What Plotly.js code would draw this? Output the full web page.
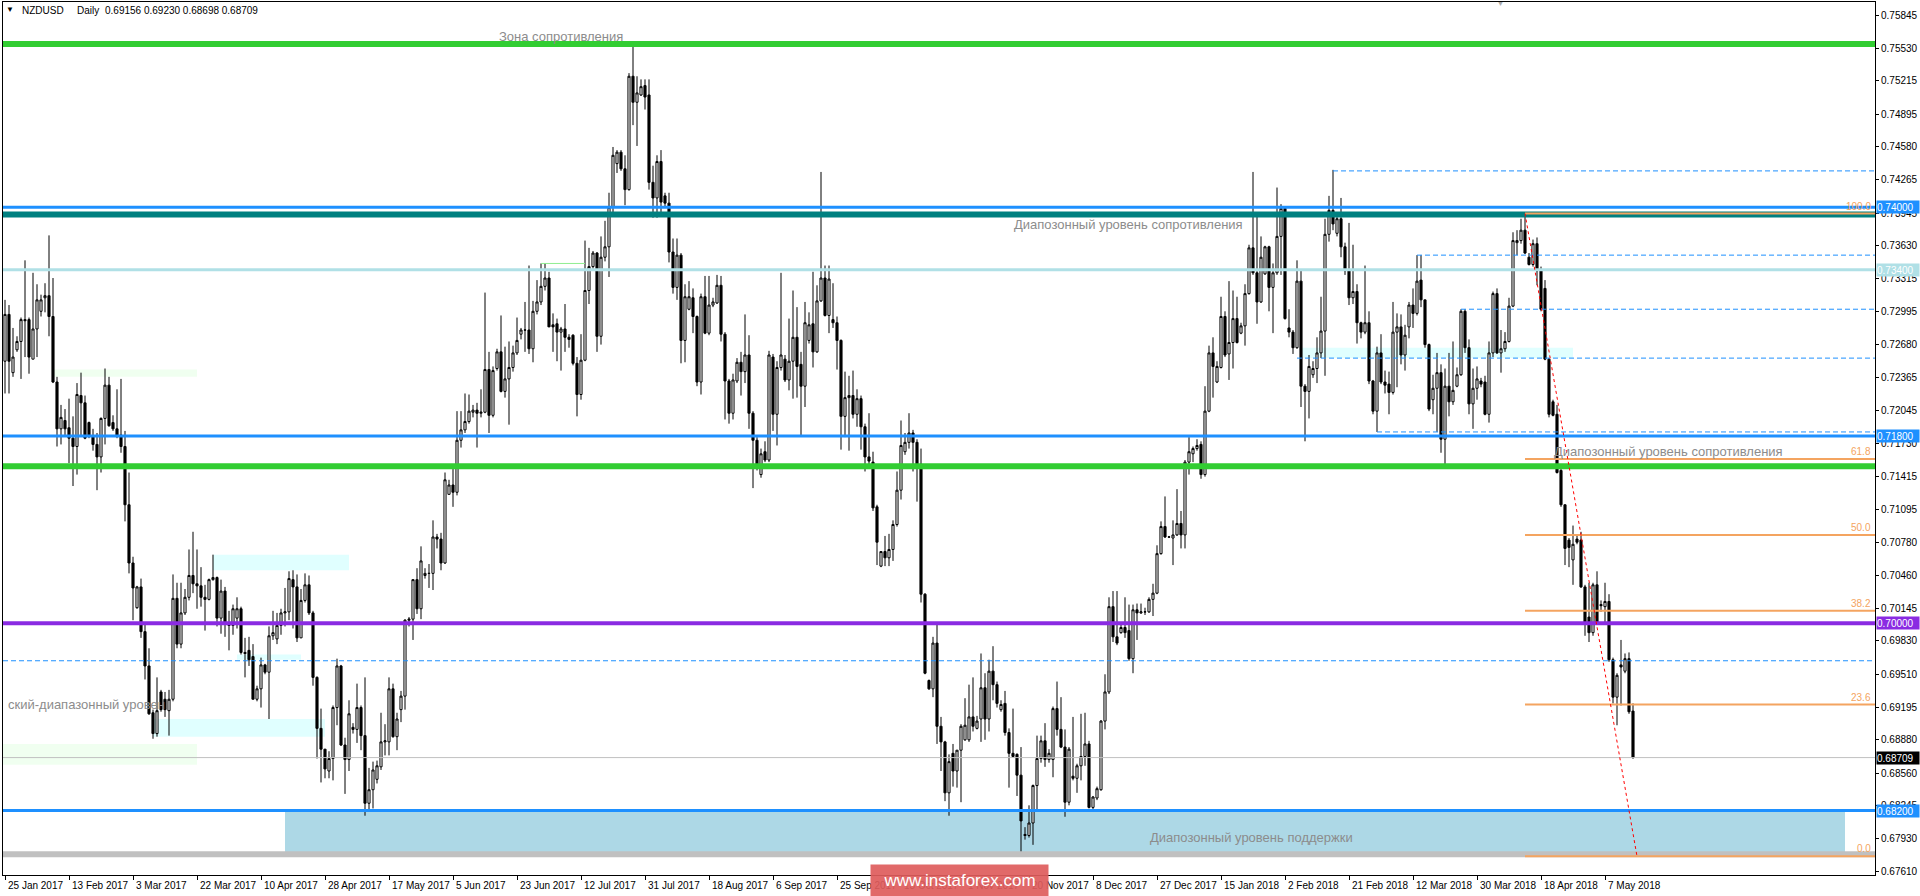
<!DOCTYPE html>
<html><head><meta charset="utf-8">
<script src="https://cdn.plot.ly/plotly-3.0.1.min.js"></script>
<style>html,body{margin:0;padding:0;background:#fff;}#chart{width:1920px;height:896px;}</style>
</head><body><div id="chart"></div>
<script>
// ---------- data ----------
const symbol = 'NZDUSD';
const timeframe = 'Daily';
const firstDay = '2017-01-25';

const open = [
0.7252,0.7297,0.7241,0.7263,0.7271,0.7292,0.7292,0.7254,0.7283,0.7300,
0.7313,0.7315,0.7295,0.7232,0.7187,0.7195,0.7188,0.7178,0.7170,0.7219,
0.7212,0.7193,0.7180,0.7172,0.7160,0.7197,0.7229,0.7193,0.7187,0.7181,
0.7170,0.7114,0.7058,0.7015,0.7035,0.6992,0.6959,0.6914,0.6894,0.6934,
0.6927,0.6916,0.6927,0.7024,0.6980,0.7010,0.7025,0.7046,0.7038,0.7036,
0.7025,0.7023,0.7042,0.7044,0.7005,0.7031,0.6999,0.6998,0.7005,0.7014,
0.6972,0.6974,0.6968,0.6927,0.6937,0.6960,0.6953,0.6988,0.6985,0.6998,
0.7010,0.7011,0.7042,0.7035,0.6986,0.7022,0.7037,0.7010,0.6948,0.6899,
0.6879,0.6858,0.6870,0.6919,0.6959,0.6883,0.6869,0.6900,0.6898,0.6919,
0.6892,0.6827,0.6840,0.6850,0.6862,0.6886,0.6886,0.6937,0.6891,0.6917,
0.6930,0.7003,0.7004,0.7042,0.7014,0.7046,0.7048,0.7048,0.7083,0.7081,
0.7058,0.7124,0.7133,0.7126,0.7176,0.7186,0.7194,0.7203,0.7205,0.7202,
0.7203,0.7244,0.7200,0.7245,0.7261,0.7223,0.7235,0.7246,0.7260,0.7278,
0.7282,0.7282,0.7264,0.7300,0.7309,0.7324,0.7332,0.7287,0.7288,0.7280,
0.7283,0.7275,0.7277,0.7250,0.7220,0.7253,0.7320,0.7343,0.7356,0.7276,
0.7352,0.7362,0.7400,0.7442,0.7453,0.7437,0.7417,0.7526,0.7501,0.7508,
0.7517,0.7508,0.7424,0.7409,0.7444,0.7411,0.7404,0.7357,0.7323,0.7354,
0.7272,0.7302,0.7313,0.7295,0.7232,0.7314,0.7279,0.7306,0.7308,0.7325,
0.7278,0.7233,0.7202,0.7233,0.7251,0.7242,0.7258,0.7202,0.7176,0.7143,
0.7165,0.7157,0.7256,0.7201,0.7246,0.7254,0.7234,0.7252,0.7275,0.7249,
0.7228,0.7272,0.7288,0.7261,0.7310,0.7332,0.7296,0.7292,0.7289,0.7272,
0.7199,0.7217,0.7219,0.7201,0.7216,0.7189,0.7160,0.7155,0.7112,0.7055,
0.7069,0.7063,0.7071,0.7095,0.7128,0.7165,0.7174,0.7183,0.7174,0.7153,
0.7028,0.6945,0.6937,0.6981,0.6901,0.6886,0.6837,0.6875,0.6858,0.6878,
0.6888,0.6888,0.6910,0.6899,0.6908,0.6938,0.6908,0.6954,0.6941,0.6917,
0.6923,0.6895,0.6875,0.6874,0.6854,0.6797,0.6796,0.6808,0.6844,0.6870,
0.6887,0.6869,0.6869,0.6918,0.6898,0.6881,0.6828,0.6853,0.6851,0.6863,
0.6872,0.6884,0.6823,0.6832,0.6840,0.6906,0.6934,0.7016,0.6987,0.6991,
0.6996,0.6993,0.6966,0.7013,0.7010,0.7011,0.7011,0.7023,0.7029,0.7067,
0.7093,0.7083,0.7082,0.7085,0.7096,0.7085,0.7155,0.7163,0.7168,0.7172,
0.7143,0.7204,0.7260,0.7232,0.7246,0.7295,0.7259,0.7270,0.7293,0.7279,
0.7286,0.7317,0.7361,0.7337,0.7309,0.7336,0.7362,0.7323,0.7337,0.7372,
0.7399,0.7284,0.7280,0.7265,0.7329,0.7228,0.7223,0.7239,0.7245,0.7260,
0.7281,0.7374,0.7397,0.7375,0.7389,0.7362,0.7339,0.7313,0.7319,0.7289,
0.7280,0.7289,0.7233,0.7204,0.7260,0.7232,0.7230,0.7222,0.7280,0.7285,
0.7258,0.7285,0.7306,0.7298,0.7330,0.7311,0.7268,0.7215,0.7226,0.7241,
0.7177,0.7228,0.7213,0.7228,0.7239,0.7300,0.7265,0.7211,0.7226,0.7233,
0.7232,0.7201,0.7260,0.7317,0.7260,0.7264,0.7271,0.7305,0.7366,0.7368,
0.7378,0.7352,0.7345,0.7365,0.7339,0.7322,0.7254,0.7213,0.7201,0.7147,
0.7114,0.7080,0.7061,0.7081,0.7080,0.7035,0.7006,0.6991,0.7037,0.7018,
0.7016,0.7021,0.6965,0.6929,0.6960,0.6954,0.6966,0.69156];

const high = [
0.7311,0.7306,0.7284,0.7276,0.7294,0.7349,0.7294,0.7337,0.7326,0.7316,
0.7327,0.7373,0.7332,0.7237,0.7210,0.7206,0.7216,0.7199,0.7231,0.7241,
0.7219,0.7194,0.7187,0.7183,0.7198,0.7245,0.7237,0.7200,0.7225,0.7235,
0.7185,0.7145,0.7064,0.7036,0.7043,0.7001,0.6976,0.6917,0.6948,0.6936,
0.6934,0.6936,0.7047,0.7039,0.7039,0.7033,0.7071,0.7088,0.7071,0.7054,
0.7037,0.7043,0.7066,0.7045,0.7042,0.7035,0.7012,0.7018,0.7025,0.7016,
0.6986,0.6987,0.6980,0.6940,0.6967,0.6961,0.6997,0.7012,0.7010,0.7014,
0.7034,0.7050,0.7051,0.7047,0.7033,0.7048,0.7046,0.7012,0.6949,0.6918,
0.6879,0.6877,0.6921,0.6966,0.6960,0.6890,0.6926,0.6904,0.6942,0.6921,
0.6948,0.6861,0.6867,0.6868,0.6914,0.6903,0.6948,0.6942,0.6914,0.6935,
0.7004,0.7006,0.7042,0.7053,0.7074,0.7053,0.7057,0.7099,0.7086,0.7087,
0.7145,0.7138,0.7149,0.7204,0.7204,0.7221,0.7220,0.7210,0.7212,0.7225,
0.7318,0.7261,0.7247,0.7264,0.7296,0.7266,0.7271,0.7267,0.7294,0.7284,
0.7309,0.7344,0.7310,0.7330,0.7346,0.7346,0.7338,0.7298,0.7293,0.7285,
0.7307,0.7278,0.7278,0.7256,0.7278,0.7368,0.7361,0.7358,0.7357,0.7372,
0.7387,0.7414,0.7458,0.7455,0.7455,0.7450,0.7529,0.7558,0.7526,0.7523,
0.7523,0.7523,0.7440,0.7450,0.7455,0.7414,0.7414,0.7370,0.7370,0.7356,
0.7326,0.7329,0.7322,0.7296,0.7317,0.7334,0.7334,0.7313,0.7335,0.7334,
0.7280,0.7235,0.7240,0.7255,0.7261,0.7297,0.7277,0.7204,0.7179,0.7168,
0.7175,0.7262,0.7259,0.7252,0.7337,0.7258,0.7293,0.7320,0.7304,0.7261,
0.7309,0.7299,0.7338,0.7325,0.7434,0.7344,0.7344,0.7327,0.7295,0.7273,
0.7242,0.7238,0.7243,0.7225,0.7219,0.7192,0.7202,0.7165,0.7114,0.7069,
0.7084,0.7086,0.7099,0.7146,0.7195,0.7183,0.7202,0.7186,0.7177,0.7168,
0.7029,0.6946,0.6987,0.6999,0.6910,0.6887,0.6874,0.6884,0.6878,0.6903,
0.6928,0.6941,0.6948,0.6911,0.6971,0.6952,0.6965,0.6978,0.6944,0.6926,
0.6935,0.6899,0.6918,0.6875,0.6881,0.6804,0.6825,0.6845,0.6892,0.6892,
0.6904,0.6879,0.6920,0.6944,0.6929,0.6898,0.6881,0.6910,0.6865,0.6913,
0.6914,0.6887,0.6834,0.6843,0.6907,0.6951,0.7025,0.7031,0.7031,0.7000,
0.7025,0.7018,0.7018,0.7019,0.7019,0.7015,0.7025,0.7038,0.7075,0.7098,
0.7122,0.7084,0.7099,0.7129,0.7108,0.7157,0.7179,0.7170,0.7177,0.7175,
0.7228,0.7267,0.7275,0.7252,0.7314,0.7300,0.7329,0.7320,0.7314,0.7289,
0.7326,0.7364,0.7434,0.7392,0.7372,0.7363,0.7363,0.7346,0.7419,0.7403,
0.7400,0.7302,0.7282,0.7349,0.7340,0.7230,0.7258,0.7252,0.7275,0.7314,
0.7389,0.7411,0.7436,0.7393,0.7409,0.7366,0.7385,0.7364,0.7326,0.7290,
0.7344,0.7300,0.7234,0.7266,0.7278,0.7243,0.7242,0.7309,0.7298,0.7297,
0.7287,0.7309,0.7322,0.7354,0.7354,0.7311,0.7269,0.7239,0.7260,0.7249,
0.7245,0.7260,0.7271,0.7246,0.7302,0.7302,0.7273,0.7245,0.7247,0.7236,
0.7238,0.7271,0.7319,0.7322,0.7282,0.7280,0.7313,0.7376,0.7378,0.7389,
0.7394,0.7356,0.7369,0.7371,0.7343,0.7330,0.7255,0.7215,0.7210,0.7149,
0.7114,0.7082,0.7094,0.7084,0.7088,0.7037,0.7039,0.7039,0.7050,0.7022,
0.7039,0.7028,0.6967,0.6952,0.6984,0.6971,0.6972,0.69230];

const low = [
0.7221,0.7221,0.7237,0.7261,0.7235,0.7256,0.7240,0.7254,0.7256,0.7295,
0.7299,0.7276,0.7231,0.7170,0.7172,0.7180,0.7154,0.7132,0.7143,0.7180,
0.7177,0.7178,0.7166,0.7128,0.7145,0.7172,0.7189,0.7185,0.7178,0.7164,
0.7098,0.7048,0.7003,0.7014,0.6986,0.6946,0.6912,0.6889,0.6891,0.6915,
0.6910,0.6892,0.6925,0.6976,0.6976,0.7008,0.7022,0.7029,0.7014,0.7016,
0.6993,0.7022,0.7041,0.6997,0.6990,0.6987,0.6974,0.6989,0.6995,0.6970,
0.6948,0.6959,0.6927,0.6925,0.6919,0.6951,0.6908,0.6984,0.6980,0.6989,
0.6997,0.7003,0.6995,0.6982,0.6986,0.7020,0.7008,0.6940,0.6870,0.6847,
0.6851,0.6851,0.6849,0.6902,0.6882,0.6836,0.6858,0.6894,0.6885,0.6878,
0.6815,0.6819,0.6822,0.6846,0.6859,0.6873,0.6873,0.6890,0.6878,0.6905,
0.6917,0.6997,0.6984,0.7009,0.7004,0.7043,0.7034,0.7032,0.7072,0.7051,
0.7057,0.7124,0.7112,0.7123,0.7169,0.7183,0.7192,0.7198,0.7169,0.7198,
0.7202,0.7183,0.7198,0.7243,0.7222,0.7217,0.7191,0.7242,0.7258,0.7273,
0.7261,0.7259,0.7251,0.7297,0.7306,0.7320,0.7285,0.7261,0.7252,0.7243,
0.7261,0.7265,0.7248,0.7199,0.7215,0.7252,0.7307,0.7341,0.7261,0.7268,
0.7348,0.7333,0.7393,0.7433,0.7435,0.7402,0.7416,0.7479,0.7459,0.7507,
0.7494,0.7417,0.7390,0.7390,0.7392,0.7400,0.7347,0.7317,0.7311,0.7250,
0.7251,0.7301,0.7279,0.7228,0.7220,0.7278,0.7277,0.7304,0.7307,0.7271,
0.7196,0.7192,0.7196,0.7231,0.7219,0.7231,0.7187,0.7130,0.7147,0.7140,
0.7155,0.7155,0.7185,0.7171,0.7243,0.7232,0.7224,0.7216,0.7217,0.7181,
0.7208,0.7269,0.7246,0.7260,0.7309,0.7295,0.7279,0.7284,0.7244,0.7167,
0.7179,0.7166,0.7197,0.7189,0.7167,0.7146,0.7150,0.7108,0.7056,0.7054,
0.7055,0.7055,0.7060,0.7093,0.7119,0.7162,0.7168,0.7146,0.7117,0.7020,
0.6951,0.6936,0.6929,0.6884,0.6858,0.6829,0.6815,0.6843,0.6842,0.6828,
0.6887,0.6886,0.6896,0.6898,0.6886,0.6888,0.6896,0.6926,0.6919,0.6915,
0.6892,0.6842,0.6871,0.6834,0.6778,0.6792,0.6794,0.6787,0.6821,0.6866,
0.6862,0.6866,0.6852,0.6892,0.6880,0.6814,0.6825,0.6849,0.6837,0.6849,
0.6863,0.6822,0.6821,0.6830,0.6839,0.6898,0.6932,0.6982,0.6979,0.6990,
0.6986,0.6964,0.6952,0.6984,0.7009,0.7008,0.7010,0.7007,0.7028,0.7066,
0.7082,0.7082,0.7056,0.7084,0.7072,0.7072,0.7143,0.7155,0.7166,0.7139,
0.7141,0.7203,0.7217,0.7231,0.7245,0.7256,0.7234,0.7245,0.7269,0.7278,
0.7267,0.7316,0.7335,0.7288,0.7308,0.7335,0.7300,0.7279,0.7335,0.7335,
0.7292,0.7275,0.7259,0.7264,0.7208,0.7175,0.7197,0.7236,0.7231,0.7255,
0.7238,0.7367,0.7378,0.7372,0.7352,0.7335,0.7306,0.7307,0.7269,0.7274,
0.7278,0.7230,0.7201,0.7184,0.7230,0.7221,0.7201,0.7220,0.7227,0.7249,
0.7243,0.7274,0.7284,0.7296,0.7304,0.7265,0.7204,0.7201,0.7184,0.7164,
0.7152,0.7199,0.7210,0.7227,0.7238,0.7260,0.7201,0.7187,0.7215,0.7227,
0.7200,0.7193,0.7256,0.7259,0.7241,0.7261,0.7270,0.7304,0.7354,0.7365,
0.7355,0.7344,0.7343,0.7325,0.7300,0.7253,0.7198,0.7199,0.7144,0.7112,
0.7056,0.7054,0.7037,0.7076,0.7034,0.6988,0.6982,0.6988,0.6999,0.7011,
0.7001,0.6963,0.6923,0.6902,0.6921,0.6952,0.6913,0.68698];

const close = [
0.7297,0.7252,0.7256,0.7271,0.7292,0.7291,0.7256,0.7283,0.7311,0.7311,
0.7315,0.7295,0.7232,0.7187,0.7198,0.7187,0.7178,0.7170,0.7220,0.7212,
0.7178,0.7180,0.7172,0.7160,0.7197,0.7229,0.7190,0.7187,0.7181,0.7170,
0.7114,0.7058,0.7034,0.7035,0.6992,0.6959,0.6913,0.6894,0.6916,0.6917,
0.6917,0.6927,0.7024,0.6980,0.7010,0.7025,0.7046,0.7038,0.7036,0.7025,
0.7023,0.7042,0.7044,0.7005,0.7031,0.6999,0.6998,0.7014,0.7014,0.6972,
0.6971,0.6965,0.6927,0.6937,0.6960,0.6953,0.6988,0.6991,0.6998,0.7010,
0.7011,0.7043,0.7035,0.6986,0.7022,0.7037,0.7010,0.6948,0.6899,0.6879,
0.6860,0.6870,0.6919,0.6959,0.6883,0.6869,0.6913,0.6898,0.6919,0.6892,
0.6827,0.6840,0.6859,0.6863,0.6886,0.6887,0.6937,0.6891,0.6908,0.6930,
0.7003,0.7004,0.7042,0.7014,0.7060,0.7048,0.7048,0.7083,0.7081,0.7058,
0.7138,0.7133,0.7126,0.7176,0.7186,0.7194,0.7204,0.7205,0.7202,0.7203,
0.7244,0.7200,0.7243,0.7261,0.7223,0.7235,0.7246,0.7260,0.7272,0.7282,
0.7282,0.7264,0.7300,0.7309,0.7324,0.7332,0.7285,0.7285,0.7280,0.7283,
0.7275,0.7273,0.7250,0.7220,0.7253,0.7320,0.7343,0.7356,0.7276,0.7352,
0.7362,0.7400,0.7450,0.7453,0.7437,0.7417,0.7526,0.7501,0.7510,0.7516,
0.7506,0.7424,0.7409,0.7444,0.7405,0.7404,0.7357,0.7323,0.7354,0.7272,
0.7314,0.7314,0.7295,0.7232,0.7314,0.7279,0.7306,0.7309,0.7325,0.7278,
0.7233,0.7202,0.7234,0.7251,0.7242,0.7258,0.7202,0.7176,0.7150,0.7163,
0.7157,0.7258,0.7201,0.7246,0.7258,0.7234,0.7252,0.7275,0.7247,0.7228,
0.7289,0.7287,0.7261,0.7310,0.7332,0.7296,0.7331,0.7289,0.7272,0.7199,
0.7217,0.7219,0.7201,0.7216,0.7189,0.7160,0.7156,0.7111,0.7078,0.7069,
0.7063,0.7071,0.7095,0.7128,0.7171,0.7174,0.7183,0.7174,0.7153,0.7028,
0.6952,0.6937,0.6981,0.6901,0.6886,0.6837,0.6867,0.6858,0.6878,0.6901,
0.6902,0.6910,0.6901,0.6906,0.6938,0.6908,0.6954,0.6941,0.6923,0.6922,
0.6895,0.6875,0.6872,0.6854,0.6810,0.6796,0.6808,0.6844,0.6870,0.6887,
0.6869,0.6875,0.6918,0.6898,0.6881,0.6828,0.6879,0.6851,0.6863,0.6872,
0.6884,0.6823,0.6833,0.6841,0.6906,0.6934,0.7016,0.6987,0.6981,0.6996,
0.6991,0.6966,0.7013,0.7010,0.7011,0.7011,0.7023,0.7029,0.7067,0.7093,
0.7083,0.7083,0.7085,0.7096,0.7085,0.7155,0.7165,0.7168,0.7171,0.7143,
0.7204,0.7260,0.7247,0.7247,0.7295,0.7258,0.7270,0.7293,0.7270,0.7286,
0.7317,0.7361,0.7337,0.7309,0.7352,0.7362,0.7323,0.7337,0.7372,0.7399,
0.7293,0.7280,0.7265,0.7329,0.7228,0.7223,0.7247,0.7245,0.7260,0.7281,
0.7374,0.7397,0.7384,0.7389,0.7362,0.7339,0.7313,0.7319,0.7289,0.7280,
0.7289,0.7233,0.7204,0.7260,0.7232,0.7229,0.7222,0.7280,0.7285,0.7258,
0.7277,0.7306,0.7298,0.7329,0.7311,0.7268,0.7206,0.7226,0.7241,0.7177,
0.7228,0.7213,0.7224,0.7239,0.7300,0.7265,0.7211,0.7226,0.7235,0.7230,
0.7201,0.7260,0.7317,0.7260,0.7264,0.7271,0.7305,0.7368,0.7368,0.7378,
0.7356,0.7345,0.7365,0.7339,0.7302,0.7254,0.7201,0.7200,0.7145,0.7114,
0.7072,0.7073,0.7076,0.7078,0.7035,0.6999,0.6991,0.7037,0.7000,0.7017,
0.7021,0.6965,0.6929,0.6950,0.6958,0.6966,0.6915,0.68709];

// time-axis labels (one every 16 bars)
const tickLabels = ['25 Jan 2017','13 Feb 2017','3 Mar 2017','22 Mar 2017','10 Apr 2017','28 Apr 2017',
 '17 May 2017','5 Jun 2017','23 Jun 2017','12 Jul 2017','31 Jul 2017','18 Aug 2017','6 Sep 2017',
 '25 Sep 2017','13 Oct 2017','1 Nov 2017','20 Nov 2017','8 Dec 2017','27 Dec 2017','15 Jan 2018',
 '2 Feb 2018','21 Feb 2018','12 Mar 2018','30 Mar 2018','18 Apr 2018','7 May 2018'];
const tickStep = 16;

// price-axis labels
const priceTicks = [0.75845,0.75530,0.75215,0.74895,0.74580,0.74265,0.73945,0.73630,0.73315,0.72995,
 0.72680,0.72365,0.72045,0.71730,0.71415,0.71095,0.70780,0.70460,0.70145,0.69830,0.69510,0.69195,
 0.68880,0.68560,0.68245,0.67930,0.67610];

// analysis levels drawn on the chart
const resistanceZone = 0.7557;
const levelBlue = [0.7400, 0.7180, 0.6820];
const levelTeal = 0.7393;
const levelPowder = 0.7340;
const levelGreen = 0.7151;
const levelPurple = 0.7000;
const levelDashed = 0.6964;
const levelFloor = 0.6778;
const dashedStarts = [332, 353, 364, 323, 343];
const dashedPrices = [0.7435, 0.7354, 0.7302, 0.7255, 0.7184];
const fibHigh = 0.7394, fibLow = 0.6776, fibStartBar = 380, fibEndBar = 408;
const fibRatios = [0, 23.6, 38.2, 50, 61.8, 100];
const axisMarks = [
  {p: 0.74000, bg: '#1E90FF'}, {p: 0.73400, bg: '#B0E0E6'}, {p: 0.71800, bg: '#1E90FF'},
  {p: 0.70000, bg: '#8A2BE2'}, {p: 0.68200, bg: '#1E90FF'}];

// ---------- build ----------
const nBars = close.length;
const dates = [];
(function(){ const d = new Date(firstDay + 'T00:00:00Z');
  while (dates.length < nBars) { if (d.getUTCDay() !== 6) dates.push(d.toISOString().slice(0,10)); d.setUTCDate(d.getUTCDate()+1); } })();

const W = 1920, H = 896, ML = 3, MR = 45, MT = 2, MB = 21;
const plotW = W - ML - MR, plotH = H - MT - MB;
const px = x => (x - ML) / plotW;
const py = y => (H - MB - y) / plotH;
const FONT = 'Liberation Sans, Arial, sans-serif';
const lastClose = close[nBars-1];
const xMax = 467.5;

const trace = {
  type: 'candlestick', x: dates, open: open, high: high, low: low, close: close,
  increasing: {line: {color: '#000', width: 1}, fillcolor: '#ffffff'},
  decreasing: {line: {color: '#000', width: 1}, fillcolor: '#000000'},
  whiskerwidth: 0, hoverinfo: 'skip', showlegend: false
};

const shapes = [];
const hline = (p, color, width, dash, x0, layer) => shapes.push({
  type: 'line', xref: x0 === undefined ? 'paper' : 'x', yref: 'y',
  x0: x0 === undefined ? 0 : x0, x1: x0 === undefined ? 1 : xMax, y0: p, y1: p,
  line: {color: color, width: width, dash: dash || 'solid'}, layer: layer || 'above'});
const rect = (x0, x1, y0, y1, color, xref) => shapes.push({
  type: 'rect', xref: xref || 'x', yref: 'y', x0: x0, x1: x1, y0: y0, y1: y1,
  fillcolor: color, line: {width: 0}, layer: 'below'});

// background rectangles
rect(70, 460, levelFloor, 0.6820, '#ADD8E6');
rect(52, 86, 0.7051, 0.7066, '#E0FFFF');
rect(37, 80, 0.6891, 0.6908, '#E0FFFF');
rect(58, 74, 0.6965, 0.6970, '#E0FFFF');
rect(324, 392, 0.7255, 0.7265, '#E0FFFF');
rect(12, 48, 0.7237, 0.7244, '#F0FFF0');
rect(-0.5, 48, 0.6864, 0.6884, '#F0FFF0');

// lines
hline(levelFloor, '#C0C0C0', 6);
hline(lastClose, '#C0C0C0', 1);
hline(levelDashed, '#1E90FF', 1, '5px,3px');
dashedPrices.forEach((p, k) => hline(p, '#1E90FF', 1, '5px,3px', dashedStarts[k]));
shapes.push({type:'line', xref:'x', yref:'y', x0:134, x1:145, y0:0.7346, y1:0.7346, line:{color:'#90EE90', width:1}});
hline(resistanceZone, '#32CD32', 6);
hline(levelTeal, '#008080', 6);
hline(levelPowder, '#B0E0E6', 3);
hline(levelGreen, '#32CD32', 6);
hline(levelPurple, '#8A2BE2', 4);
levelBlue.forEach(p => hline(p, '#1E90FF', 3));
fibRatios.forEach(r => hline(fibLow + r/100*(fibHigh-fibLow), '#F4A460', 2, 'solid', fibStartBar));
shapes.push({type:'line', xref:'x', yref:'y', x0:fibStartBar, x1:fibEndBar, y0:fibHigh, y1:fibLow,
  line:{color:'#FF0000', width:1, dash:'3px,3px'}, layer:'above'});

const ann = [];
const txt = (o) => ann.push(Object.assign({showarrow: false, font: {family: FONT, size: 10, color: '#000'}}, o));

// header
txt({xref:'paper', yref:'paper', x:px(10), y:py(10), xanchor:'center', yanchor:'middle', text:'▼', font:{family:FONT, size:8, color:'#000'}});
txt({xref:'paper', yref:'paper', x:px(20), y:py(11), xanchor:'left', yanchor:'middle', text:symbol});
txt({xref:'paper', yref:'paper', x:px(75), y:py(11), xanchor:'left', yanchor:'middle', text:timeframe});
txt({xref:'paper', yref:'paper', x:px(103), y:py(11), xanchor:'left', yanchor:'middle',
  text:[open[nBars-1], high[nBars-1], low[nBars-1], close[nBars-1]].map(v => v.toFixed(5)).join(' ')});
txt({xref:'paper', yref:'paper', x:px(1500), y:py(4), xanchor:'center', yanchor:'middle', text:'▼', font:{family:FONT, size:7, color:'#A9A9A9'}});

// chart texts
const gray = {family: FONT, size: 13, color: '#8C8C8C'};
txt({xref:'x', yref:'y', x:123, y:0.7564, xanchor:'left', yanchor:'middle', text:'Зона сопротивления', font:gray});
txt({xref:'x', yref:'y', x:251.75, y:0.7383, xanchor:'left', yanchor:'middle', text:'Диапозонный уровень сопротивления', font:gray});
txt({xref:'x', yref:'y', x:386.75, y:0.7165, xanchor:'left', yanchor:'middle', text:'Диапозонный уровень сопротивления', font:gray});
txt({xref:'paper', yref:'y', x:px(6), y:0.6922, xanchor:'left', yanchor:'middle', text:'ский-диапазонный уровен', font:gray});
txt({xref:'x', yref:'y', x:285.75, y:0.6794, xanchor:'left', yanchor:'middle', text:'Диапозонный уровень поддержки', font:gray});

// fibonacci labels
fibRatios.forEach(r => txt({xref:'paper', yref:'y', x:1, xshift:-2, y:fibLow + r/100*(fibHigh-fibLow),
  xanchor:'right', yanchor:'bottom', text:r.toFixed(1), font:{family:FONT, size:10, color:'#F4A460'}}));

// price-axis marks
axisMarks.forEach(m => txt({xref:'paper', yref:'y', x:1, xshift:1, y:m.p, xanchor:'left', yanchor:'middle',
  text:m.p.toFixed(5), bgcolor:m.bg, width:42, height:12, borderpad:0, align:'left', font:{family:FONT, size:10, color:'#fff'}}));
txt({xref:'paper', yref:'y', x:1, xshift:1, y:lastClose, xanchor:'left', yanchor:'middle',
  text:lastClose.toFixed(5), bgcolor:'#000', width:42, height:12, borderpad:0, align:'left', font:{family:FONT, size:10, color:'#fff'}});

// time labels
tickLabels.forEach((t, k) => txt({xref:'x', yref:'paper', x:k*tickStep, xshift:1, y:py(885), xanchor:'left', yanchor:'middle', text:t}));

// watermark
txt({xref:'paper', yref:'paper', x:px(960), y:py(880.5), xanchor:'center', yanchor:'middle', width:177, height:31,
  bgcolor:'rgba(222,92,92,0.92)', borderpad:0, text:'www.instaforex.com', font:{family:FONT, size:17, color:'#fff'}});

const layout = {
  width: W, height: H, margin: {l: ML, r: MR, t: MT, b: MB, pad: 0},
  paper_bgcolor: '#fff', plot_bgcolor: '#fff', showlegend: false, boxgap: 0.25,
  hovermode: false, dragmode: false,
  xaxis: {type: 'category', range: [-0.5, xMax], showgrid: false, zeroline: false, rangeslider: {visible: false},
    showline: true, mirror: true, linecolor: '#000', linewidth: 1,
    tickvals: tickLabels.map((_, k) => dates[k*tickStep]), ticktext: tickLabels.map(() => ''),
    ticks: 'outside', ticklen: 4, tickcolor: '#000', showticklabels: false, fixedrange: true},
  yaxis: {side: 'right', range: [0.67580, 0.75974], showgrid: false, zeroline: false,
    showline: true, mirror: true, linecolor: '#000', linewidth: 1,
    tickvals: priceTicks, ticktext: priceTicks.map(v => v.toFixed(5)),
    ticks: 'outside', ticklen: 3, tickcolor: '#000', tickfont: {family: FONT, size: 10, color: '#000'}, fixedrange: true},
  shapes: shapes, annotations: ann, font: {family: FONT}
};

Plotly.newPlot('chart', [trace], layout, {displayModeBar: false, staticPlot: true});
</script>
</body></html>
